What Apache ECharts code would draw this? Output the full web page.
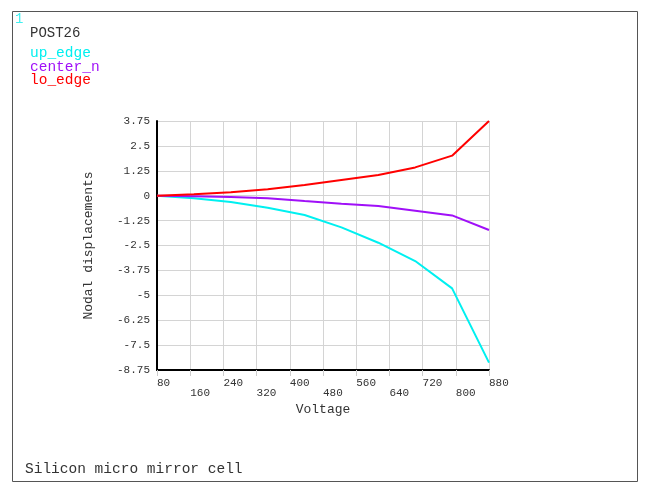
<!DOCTYPE html>
<html>
<head>
<meta charset="utf-8">
<script src="https://cdn.jsdelivr.net/npm/echarts@6/dist/echarts.min.js"></script>
<style>
  html, body { margin: 0; padding: 0; background: #fff; }
  #chart { width: 655px; height: 491px; }
</style>
</head>
<body>
<div id="chart"></div>
<script>
  // voltage steps (10 load steps, 80 .. 880)
  var voltage = [80, 168.9, 257.8, 346.7, 435.6, 524.4, 613.3, 702.2, 791.1, 880];
  var upEdge = [0, -0.13, -0.32, -0.60, -0.97, -1.59, -2.36, -3.28, -4.65, -8.38];
  var centerN = [0, -0.03, -0.07, -0.13, -0.27, -0.40, -0.52, -0.75, -0.99, -1.72];
  var loEdge = [0, 0.07, 0.17, 0.32, 0.54, 0.79, 1.04, 1.42, 2.01, 3.75];
  var seriesNames = ['up_edge', 'center_n', 'lo_edge'];
  var seriesColors = ['#00f0f0', '#a010f8', '#ff0000'];

  var mono = '"Liberation Mono", "DejaVu Sans Mono", monospace';

  function pairs(ys) {
    var out = [];
    for (var i = 0; i < voltage.length; i++) {
      out.push([voltage[i], ys[i]]);
    }
    return out;
  }

  var allValues = [upEdge, centerN, loEdge];
  var series = [];
  var legendTexts = [];
  for (var s = 0; s < seriesNames.length; s++) {
    series.push({
      name: seriesNames[s],
      type: 'line',
      data: pairs(allValues[s]),
      showSymbol: false,
      symbol: 'none',
      lineStyle: { color: seriesColors[s], width: 2 },
      itemStyle: { color: seriesColors[s] },
      z: 3 + s
    });
    legendTexts.push({
      type: 'text',
      left: 30,
      top: 46 + s * 13.5,
      style: { text: seriesNames[s], fill: seriesColors[s], font: '14.5px ' + mono }
    });
  }

  var chart = echarts.init(document.getElementById('chart'));
  chart.setOption({
    animation: false,
    backgroundColor: '#fff',
    grid: { left: 157, right: 166, top: 121, bottom: 121 },
    xAxis: {
      type: 'value',
      min: 80,
      max: 880,
      interval: 80,
      name: 'Voltage',
      nameLocation: 'middle',
      nameGap: 30,
      nameTextStyle: { fontFamily: mono, fontSize: 13, color: '#333' },
      axisLine: { show: true, onZero: false, lineStyle: { color: '#000', width: 2 } },
      axisTick: { show: true, length: 6, lineStyle: { color: '#ccc' } },
      splitLine: { show: true, lineStyle: { color: '#d4d4d4', width: 1 } },
      axisLabel: {
        fontFamily: mono,
        fontSize: 11,
        color: '#333',
        margin: 8,
        lineHeight: 10,
        align: 'left',
        showMaxLabel: true,
        formatter: function (v, i) {
          return (i % 2 === 1) ? '\n' + v : String(v);
        }
      }
    },
    yAxis: {
      type: 'value',
      min: -8.75,
      max: 3.75,
      interval: 1.25,
      name: 'Nodal displacements',
      nameLocation: 'middle',
      nameGap: 62,
      nameTextStyle: { fontFamily: mono, fontSize: 13, color: '#333' },
      axisLine: { show: true, onZero: false, lineStyle: { color: '#000', width: 2 } },
      axisTick: { show: false },
      splitLine: { show: true, lineStyle: { color: '#d4d4d4', width: 1 } },
      axisLabel: { fontFamily: mono, fontSize: 11, color: '#333', margin: 7 }
    },
    series: series,
    graphic: [
      {
        type: 'rect',
        shape: { x: 12.5, y: 11.5, width: 625, height: 470 },
        style: { fill: 'none', stroke: '#555', lineWidth: 1 }
      },
      {
        type: 'text', left: 15, top: 12,
        style: { text: '1', fill: '#40f0f0', font: '14px ' + mono }
      },
      {
        type: 'text', left: 30, top: 26,
        style: { text: 'POST26', fill: '#333', font: '14px ' + mono }
      },
      {
        type: 'text', left: 25, top: 462,
        style: { text: 'Silicon micro mirror cell', fill: '#333', font: '14.5px ' + mono }
      }
    ].concat(legendTexts)
  });
</script>
</body>
</html>
